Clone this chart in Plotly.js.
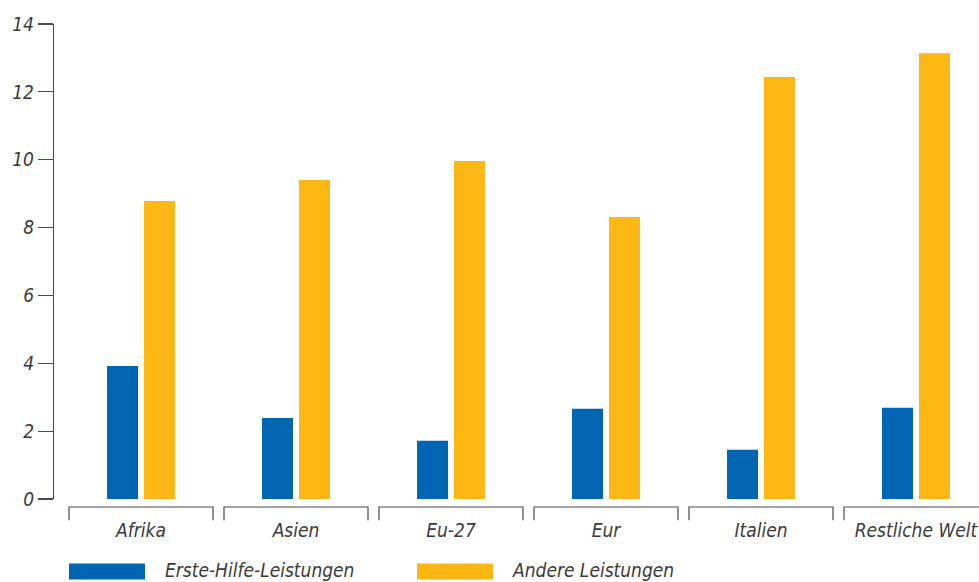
<!DOCTYPE html>
<html>
<head>
<meta charset="utf-8">
<script src="https://cdn.plot.ly/plotly-3.0.1.min.js"></script>
<style>
  html, body { margin: 0; padding: 0; background: #fff; }
  #chart { width: 979px; height: 582px; }
</style>
</head>
<body>
<div id="chart"></div>
<script>
// Regions and the two service series
const regions = ['Afrika', 'Asien', 'Eu-27', 'Eur', 'Italien', 'Restliche Welt'];
const firstAidName = 'Erste-Hilfe-Leistungen';
const firstAid = [3.92, 2.39, 1.72, 2.66, 1.45, 2.69];
const otherName = 'Andere Leistungen';
const other = [8.78, 9.40, 9.96, 8.31, 12.44, 13.14];
const yTicks = [0, 2, 4, 6, 8, 10, 12, 14];

const BLUE = '#0066b3';
const ORANGE = '#fdb714';
const TEXT = '#3a3a3a';
const AXIS = '#4a4a4a';
const FONT = '"Liberation Sans Narrow", "DejaVu Sans Condensed", "Arial Narrow", sans-serif';
const FSIZE = 19;

const W = 979, H = 582;
const margin = { l: 54, r: 0, t: 23.5, b: 82.7 };
const plotW = W - margin.l - margin.r;
const plotH = H - margin.t - margin.b;
const px2paperX = px => (px - margin.l) / plotW;
const px2paperY = py => (H - margin.b - py) / plotH;

// Category axis: 155 px per category, first category centred 87 px right of the y axis
const pxPerCat = 155;
const xStart = -0.5 - 9.5 / pxPerCat;
const xRange = [xStart, xStart + plotW / pxPerCat];

const traces = [
  { type: 'bar', name: firstAidName, x: regions, y: firstAid, marker: { color: BLUE }, hoverinfo: 'x+y+name' },
  { type: 'bar', name: otherName, x: regions, y: other, marker: { color: ORANGE }, hoverinfo: 'x+y+name' }
];

// Bracket under each category
const shapes = [];
const half = 0.4645;
const bTop = px2paperY(507.3), bBot = px2paperY(520.7);
regions.forEach((r, i) => {
  shapes.push({
    type: 'path', xref: 'x', yref: 'paper',
    path: `M ${i - half},${bBot} L ${i - half},${bTop} L ${i + half},${bTop} L ${i + half},${bBot}`,
    line: { color: AXIS, width: 1.2 }
  });
});

// Legend: wide colour swatches with italic labels
const legendItems = [
  { name: firstAidName, color: BLUE, x0: 69, x1: 145, tx: 163 },
  { name: otherName, color: ORANGE, x0: 417, x1: 493, tx: 510 }
];
const annotations = [];
legendItems.forEach(it => {
  shapes.push({
    type: 'rect', xref: 'paper', yref: 'paper',
    x0: px2paperX(it.x0), x1: px2paperX(it.x1),
    y0: px2paperY(580), y1: px2paperY(564),
    fillcolor: it.color, line: { width: 0 }
  });
  annotations.push({
    xref: 'paper', yref: 'paper', x: px2paperX(it.tx), y: px2paperY(570),
    xanchor: 'left', yanchor: 'middle', showarrow: false, text: it.name,
    font: { family: FONT, size: FSIZE, color: TEXT, style: 'italic' }
  });
});

const layout = {
  width: W, height: H,
  margin: margin,
  paper_bgcolor: '#ffffff', plot_bgcolor: '#ffffff',
  showlegend: false,
  barmode: 'group',
  bargap: 0.523,
  bargroupgap: 0.162,
  font: { family: FONT, color: TEXT, style: 'italic' },
  xaxis: {
    type: 'category', range: xRange,
    showline: false, showgrid: false, zeroline: false,
    ticks: '', ticklabelstandoff: 18,
    tickfont: { family: FONT, size: FSIZE, color: TEXT, style: 'italic' }
  },
  yaxis: {
    range: [0, 14], tickvals: yTicks, ticktext: yTicks.map(String),
    showline: true, linecolor: AXIS, linewidth: 1.2,
    ticks: 'outside', ticklen: 15, tickcolor: AXIS, tickwidth: 1.2,
    ticklabelstandoff: 0,
    showgrid: false, zeroline: false,
    tickfont: { family: FONT, size: FSIZE, color: TEXT, style: 'italic' }
  },
  shapes: shapes,
  annotations: annotations
};

Plotly.newPlot('chart', traces, layout, { displayModeBar: false, staticPlot: true });
</script>
</body>
</html>
